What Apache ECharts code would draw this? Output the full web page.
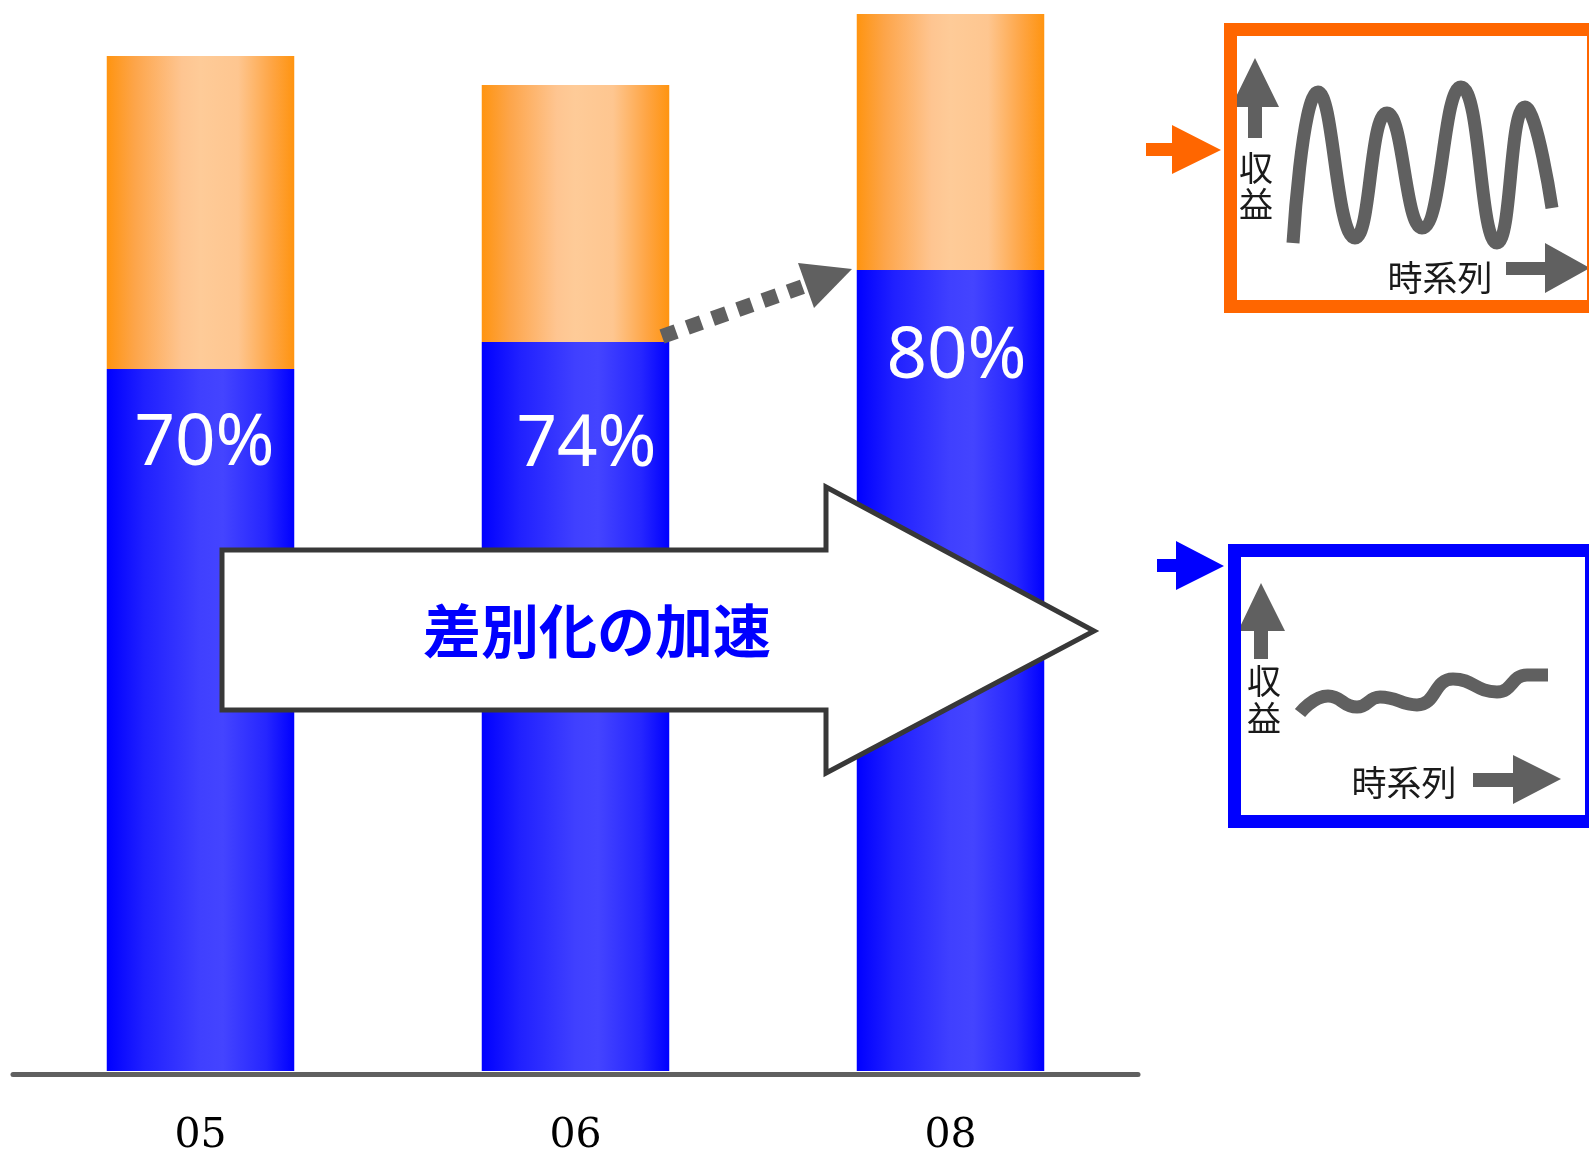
<!DOCTYPE html>
<html><head><meta charset="utf-8">
<script src="https://cdn.jsdelivr.net/npm/echarts@6/dist/echarts.min.js"></script>
<style>html,body{margin:0;padding:0;background:#fff}#c{width:1589px;height:1151px}</style>
</head><body><div id="c"></div>
<script>
// ---- data ----
const categories = ['05', '06', '08'];
const shareValues = [70.2, 72.9, 80.1];      // blue (lower) segment
const restValues = [31.3, 25.7, 25.6];       // orange (upper) segment
const shareLabels = ['70%', '74%', '80%'];
const volatileX = [0, 25, 62, 94, 129, 168, 204, 232, 259];
const volatileY = [0, 151, 5, 130, 15, 156, 0, 136, 35];
const stableX = [0, 28, 57, 80, 117, 153, 197, 227, 248];
const stableY = [0, 17, 6, 16, 8, 34, 21, 38, 38];
const arrowText = '差別化の加速';
const yAxisText = '収\n益';
const xAxisText = '時系列';

// ---- layout (not data) ----
const labelNudge = [[4, 76], [11, 104], [6, 88]];
const GRAY = '#606060';

const blueGrad = {type:'linear', x:0, y:0, x2:1, y2:0, colorStops:[
  {offset:0, color:'#0000ff'}, {offset:0.2, color:'#2020ff'}, {offset:0.5, color:'#4040ff'},
  {offset:0.62, color:'#4444ff'}, {offset:0.85, color:'#2626ff'}, {offset:1, color:'#0000ff'}]};
const orangeGrad = {type:'linear', x:0, y:0, x2:1, y2:0, colorStops:[
  {offset:0, color:'#ff9410'}, {offset:0.15, color:'#fda54a'}, {offset:0.4, color:'#fec591'},
  {offset:0.5, color:'#fecb98'}, {offset:0.7, color:'#fec690'}, {offset:0.88, color:'#fea544'}, {offset:1, color:'#ff9410'}]};

const chart = echarts.init(document.getElementById('c'), null, {renderer:'canvas'});

function poly(points, fill, z2) {
  return {type:'polygon', z:10, z2: z2 || 0, shape:{points}, style:{fill}, silent:true};
}
function txt(x, y, text, size, fill, weight, lh) {
  return {type:'text', z:10, z2:5, x, y, silent:true, style:{text, fontSize:size,
    fontFamily:'"Noto Sans CJK JP", sans-serif', fontWeight: weight || 'normal', fill,
    align:'center', verticalAlign:'middle', lineHeight: lh || size}};
}

const option = {
  animation: false,
  backgroundColor: '#ffffff',
  grid: [
    {left:13, width:1125, top:0, bottom:80, outerBoundsMode:'none', containLabel:false},
    {left:1293, width:259, top:87, height:156, outerBoundsMode:'none', containLabel:false},
    {left:1300, width:248, top:675, height:38, outerBoundsMode:'none', containLabel:false}
  ],
  xAxis: [
    {type:'category', gridIndex:0, data:categories, offset:3,
     axisLine:{show:true, onZero:false, lineStyle:{color:GRAY, width:5}},
     axisTick:{show:false},
     axisLabel:{color:'#000', fontFamily:'"DejaVu Serif", serif', fontSize:41, margin:42}},
    {type:'value', gridIndex:1, min:0, max:259, show:false},
    {type:'value', gridIndex:2, min:0, max:248, show:false}
  ],
  yAxis: [
    {type:'value', gridIndex:0, min:0, max:107.1, show:false, splitLine:{show:false}},
    {type:'value', gridIndex:1, min:0, max:156, show:false},
    {type:'value', gridIndex:2, min:0, max:38, show:false}
  ],
  series: [
    {type:'bar', stack:'total', xAxisIndex:0, yAxisIndex:0, barWidth:'50%',
     itemStyle:{color:blueGrad},
     data: shareValues.map((v, i) => ({value:v, label:{show:true, formatter: shareLabels[i],
       position:['50%', labelNudge[i][1]], offset:[labelNudge[i][0], 0],
       align:'center', verticalAlign:'middle',
       color:'#fff', fontSize:71, fontFamily:'"Noto Sans", sans-serif'}}))},
    {type:'bar', stack:'total', xAxisIndex:0, yAxisIndex:0, barWidth:'50%',
     itemStyle:{color:orangeGrad}, data: restValues},
    {type:'line', xAxisIndex:1, yAxisIndex:1, smooth:0.5, showSymbol:false, clip:false,
     lineStyle:{color:GRAY, width:13, cap:'butt'},
     data: volatileX.map((x, i) => [x, volatileY[i]])},
    {type:'line', xAxisIndex:2, yAxisIndex:2, smooth:0.5, showSymbol:false, clip:false,
     lineStyle:{color:GRAY, width:13, cap:'butt'},
     data: stableX.map((x, i) => [x, stableY[i]])}
  ],
  graphic: [
    // big outlined arrow
    {type:'polygon', z:10, silent:true,
     shape:{points:[[222,550],[826,550],[826,487],[1094,631],[826,773],[826,710],[222,710]]},
     style:{fill:'#ffffff', stroke:'#383838', lineWidth:5, lineJoin:'miter'}},
    txt(597, 631, arrowText, 58, '#0000ff', 'bold'),
    // dotted arrow between bars
    {type:'line', z:10, silent:true, shape:{x1:662, y1:336.5, x2:803, y2:286.5},
     style:{stroke:GRAY, lineWidth:15, lineDash:[15, 11.8], lineCap:'butt'}},
    poly([[798,263],[852,269],[814,308]], GRAY),
    // pointer arrows
    poly([[1146,143],[1172,143],[1172,125],[1221,150],[1172,174],[1172,156],[1146,156]], '#ff6600'),
    poly([[1157,559],[1176,559],[1176,541],[1224,566],[1176,590],[1176,572],[1157,572]], '#0000ff'),
    // orange panel content
    poly([[1248,138],[1248,107],[1231,107],[1255,58],[1279,107],[1262,107],[1262,138]], GRAY),
    poly([[1506,262],[1545,262],[1545,243],[1590,268],[1545,293],[1545,275],[1506,275]], GRAY),
    txt(1256, 186, yAxisText, 34, '#1a1a1a', 'normal', 36),
    txt(1440, 278, xAxisText, 35, '#1a1a1a'),
    {type:'rect', z:10, z2:10, silent:true, shape:{x:1230.5, y:29.5, width:363, height:277},
     style:{fill:'none', stroke:'#ff6600', lineWidth:13}},
    // blue panel content
    poly([[1254,659],[1254,631],[1238,631],[1261,583],[1285,631],[1268,631],[1268,659]], GRAY),
    poly([[1473,773],[1513,773],[1513,755],[1561,779],[1513,804],[1513,787],[1473,787]], GRAY),
    txt(1264, 700, yAxisText, 34, '#1a1a1a', 'normal', 37),
    txt(1404, 783, xAxisText, 35, '#1a1a1a'),
    {type:'rect', z:10, z2:10, silent:true, shape:{x:1234.5, y:550.5, width:357, height:271},
     style:{fill:'none', stroke:'#0000ff', lineWidth:13}}
  ]
};
chart.setOption(option);
</script></body></html>
